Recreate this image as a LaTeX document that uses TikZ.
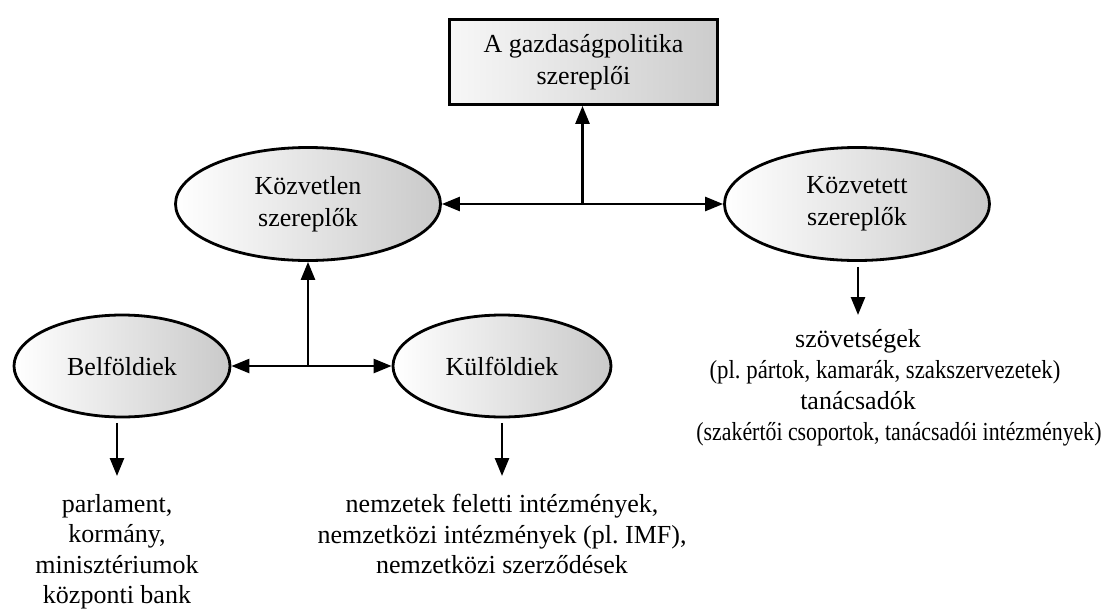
\documentclass[tikz,border=0pt]{standalone}
\usepackage{fontspec}
\usepackage{graphicx}
\setmainfont{Liberation Serif}
\frenchspacing
\usetikzlibrary{shapes.geometric,arrows.meta,calc}
\begin{document}
\begin{tikzpicture}[x=1pt,y=-1pt,
  txt/.style={font=\fontsize{26}{32}\selectfont,align=center,inner sep=0pt},
  listtxt/.style={font=\fontsize{26}{30.5}\selectfont,align=center,inner sep=0pt,anchor=north},
  ell/.style={ellipse,draw=black,line width=2.8pt,left color=white,right color=gray!42,
    inner sep=0pt,txt},
  topbox/.style={rectangle,draw=black,line width=2.8pt,left color=gray!6,right color=gray!40,
    minimum width=268pt,minimum height=85pt,inner sep=0pt,font=\fontsize{26}{32}\selectfont,align=center},
  arr/.style={line width=2.6pt,-{Triangle[length=18pt,width=14pt]}},
  darr/.style={line width=2.6pt,{Triangle[length=18pt,width=14pt]}-{Triangle[length=18pt,width=14pt]}}
]
\useasboundingbox (0,0) rectangle (1107,608);

\node[topbox] (box) at (583.5,62) {A gazdaságpolitika\\szereplői};

\node[ell,minimum width=265pt,minimum height=113pt] (kozvetlen) at (308,204) {Közvetlen\\szereplők};
\node[ell,minimum width=265pt,minimum height=113pt] (kozvetett) at (857,204) {Közvetett\\szereplők};
\node[ell,minimum width=216pt,minimum height=102pt] (bel) at (122,366) {Belföldiek};
\node[ell,minimum width=218pt,minimum height=102pt] (kul) at (502,366) {Külföldiek};

\node[listtxt] (bellist) at (117,494) {parlament,\\kormány,\\minisztériumok\\központi bank};
\node[listtxt] (kullist) at (502,494) {nemzetek feletti intézmények,\\nemzetközi intézmények (pl. IMF),\\nemzetközi szerződések};
\node[listtxt,font=\fontsize{26}{31}\selectfont] (ketlist) at (858,329) {%
  \makebox[0pt]{szövetségek}\\
  \makebox[0pt]{\hspace*{54pt}\scalebox{0.877}[1]{(pl. pártok, kamarák, szakszervezetek)}}\\
  \makebox[0pt]{tanácsadók}\\
  \makebox[0pt]{\hspace*{82pt}\scalebox{0.84}[1]{(szakértői csoportok, tanácsadói intézmények)}}};

\coordinate (j1) at ($(kozvetlen.east)!0.5!(kozvetett.west)$);
\coordinate (j2) at (kozvetlen.south |- bel.east);

\draw[darr] (kozvetlen.east) -- (kozvetett.west);
\draw[arr] (j1) -- (j1 |- box.south);
\draw[darr] (bel.east) -- (kul.west);
\draw[arr] (j2) -- (kozvetlen.south);

\draw[arr] ([yshift=-4.5pt]bel.south -| bellist.north) -- ([yshift=18pt]bellist.north);
\draw[arr] ([yshift=-4.5pt]kul.south -| kullist.north) -- ([yshift=18pt]kullist.north);
\draw[arr] ([yshift=-5pt]kozvetett.south -| ketlist.north) -- ([yshift=14pt]ketlist.north);
\end{tikzpicture}
\end{document}
